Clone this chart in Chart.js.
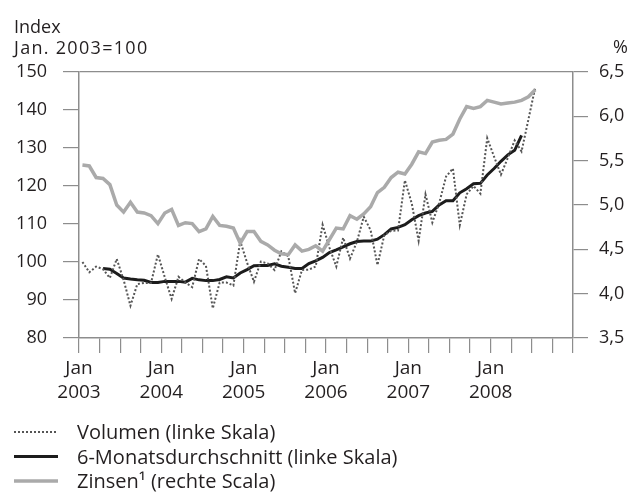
<!DOCTYPE html>
<html>
<head>
<meta charset="utf-8">
<script src="https://cdn.jsdelivr.net/npm/chart.js@4.4.1/dist/chart.umd.min.js"></script>
<style>
  body { margin: 0; background: #fff; }
  canvas { display: block; }
</style>
</head>
<body>
<canvas id="chart" width="642" height="492"></canvas>
<script>
// Monatswerte ab Jan 2003 (Index Jan. 2003 = 100, Zinsen in %)
const jahre = ['2003', '2004', '2005', '2006', '2007', '2008'];

const volumen = [
  100, 97.3, 98.8, 98.1, 95.8, 100.8, 95.3, 88.5, 94.2, 94.5, 94.5, 102,
  96, 90.3, 96.1, 94.6, 93.4, 100.8, 99, 87.8, 94.6, 94.6, 93.8, 105.5,
  99.8, 94.8, 100.1, 99.6, 97.9, 102.8, 101.5, 91.8, 97.9, 98, 98.8, 109.8,
  103.8, 98.8, 106.4, 100.9, 105.3, 111.9, 108.4, 99.2, 107.1, 108.2, 108.3, 121.5,
  115.4, 105.6, 117.8, 110.4, 115.5, 122.5, 124.6, 109.7, 117.8, 120, 118, 132.6,
  127.7, 123, 127.4, 132, 129.1, 137.5, 146
];

// 6-Monatsdurchschnitt, erster Wert Apr 2003
const durchschnittStart = 3;
const durchschnitt = [
  98.3, 98.1, 97, 95.8, 95.5, 95.3, 95.2, 94.6, 94.6,
  94.9, 94.9, 94.9, 94.7, 95.7, 95.3, 95.1, 95.1, 95.4, 96.1, 95.8, 97.1,
  98, 99, 99.1, 99.1, 99.5, 98.9, 98.6, 98.3, 98.3, 99.6, 100.3, 101.2,
  102.5, 103.2, 104, 104.8, 105.4, 105.5, 105.5, 106, 107.2, 108.7, 109.1, 109.8,
  111.1, 112.2, 112.9, 113.3, 115, 116.1, 116.1, 118.2, 119.3, 120.6, 120.7, 122.9,
  124.6, 126.5, 128.2, 129.4, 133.3
];

const zinsen = [
  5.45, 5.44, 5.31, 5.30, 5.23, 5.00, 4.92, 5.03, 4.92, 4.91, 4.88, 4.79,
  4.91, 4.95, 4.77, 4.80, 4.79, 4.70, 4.73, 4.87, 4.77, 4.76, 4.74, 4.57,
  4.70, 4.70, 4.59, 4.55, 4.49, 4.45, 4.44, 4.55, 4.48, 4.50, 4.54, 4.48,
  4.61, 4.74, 4.73, 4.88, 4.84, 4.90, 4.98, 5.14, 5.20, 5.31, 5.37, 5.35,
  5.46, 5.60, 5.58, 5.71, 5.73, 5.74, 5.80, 5.97, 6.11, 6.09, 6.11, 6.18,
  6.16, 6.14, 6.15, 6.16, 6.18, 6.22, 6.30
];

const schrift = '"Open Sans", sans-serif';
const textFarbe = '#231f20';
const achsenFarbe = '#8d8d8d';

// Werte in der Monatsmitte platzieren
const punkte = (werte, start) => werte.map((v, i) => ({ x: start + i + 0.5, y: v }));

const legende = [
  { text: 'Volumen (linke Skala)', farbe: '#555', breite: 2, dash: [2, 2] },
  { text: '6-Monatsdurchschnitt (linke Skala)', farbe: '#1c1c1c', breite: 3, dash: [] },
  { text: 'Zinsen\u00b9 (rechte Scala)', farbe: '#aaaaaa', breite: 3.5, dash: [] }
];

const beschriftung = {
  id: 'beschriftung',
  afterDraw(chart) {
    const c = chart.ctx;
    c.save();
    c.fillStyle = textFarbe;
    c.font = '18px ' + schrift;
    c.textBaseline = 'alphabetic';
    c.textAlign = 'left';
    c.fillText('Index', 14, 33);
    c.letterSpacing = '1.3px';
    c.fillText('Jan. 2003=100', 14, 54);
    c.letterSpacing = '0px';
    c.textAlign = 'right';
    c.fillText('%', 628, 53);

    // Legende
    c.font = '20px ' + schrift;
    c.textAlign = 'left';
    legende.forEach((l, i) => {
      const y = 432 + i * 24.5;
      c.beginPath();
      c.strokeStyle = l.farbe;
      c.lineWidth = l.breite;
      c.setLineDash(l.dash);
      c.moveTo(14, y);
      c.lineTo(58, y);
      c.stroke();
      c.setLineDash([]);
      c.fillText(l.text, 77, y + 7);
    });
    c.restore();
  }
};

new Chart(document.getElementById('chart'), {
  type: 'line',
  data: {
    datasets: [
      {
        label: 'Zinsen (rechte Scala)',
        data: punkte(zinsen, 0),
        yAxisID: 'y1',
        borderColor: '#aaaaaa',
        borderWidth: 3.5,
        pointRadius: 0,
        tension: 0
      },
      {
        label: 'Volumen (linke Skala)',
        data: punkte(volumen, 0),
        yAxisID: 'y',
        borderColor: '#555',
        borderWidth: 2,
        borderDash: [2, 2],
        pointRadius: 0,
        tension: 0
      },
      {
        label: '6-Monatsdurchschnitt (linke Skala)',
        data: punkte(durchschnitt, durchschnittStart),
        yAxisID: 'y',
        borderColor: '#1c1c1c',
        borderWidth: 3,
        pointRadius: 0,
        tension: 0
      }
    ]
  },
  options: {
    responsive: false,
    animation: false,
    layout: { padding: { top: 72, left: 0, right: 0, bottom: 0 } },
    plugins: { legend: { display: false }, tooltip: { enabled: false } },
    scales: {
      x: {
        type: 'linear',
        min: 0,
        max: 72,
        border: { color: achsenFarbe, width: 1.5 },
        grid: { drawOnChartArea: false, tickLength: 15, color: achsenFarbe, lineWidth: 1.2 },
        ticks: {
          stepSize: 3,
          autoSkip: false,
          maxRotation: 0,
          padding: 3,
          color: textFarbe,
          font: { family: schrift, size: 19, lineHeight: 1.3 },
          callback: v => (v % 12 === 0 && v < 72) ? ['Jan', jahre[v / 12]] : ''
        },
        afterFit: s => { s.height = 154; }
      },
      y: {
        position: 'left',
        min: 80,
        max: 150,
        border: { color: achsenFarbe, width: 1.5 },
        grid: {
          drawOnChartArea: true,
          tickLength: 16,
          tickColor: achsenFarbe,
          lineWidth: 1.2,
          color: c => c.tick && c.tick.value === 150 ? achsenFarbe : 'transparent'
        },
        ticks: {
          stepSize: 10,
          padding: 16,
          color: textFarbe,
          font: { family: schrift, size: 18 }
        },
        afterFit: s => { s.width = 79; }
      },
      y1: {
        position: 'right',
        min: 3.5,
        max: 6.5,
        border: { color: achsenFarbe, width: 1.5 },
        grid: { drawOnChartArea: false, tickLength: 15, color: achsenFarbe, lineWidth: 1.2 },
        ticks: {
          stepSize: 0.5,
          padding: 11,
          color: textFarbe,
          font: { family: schrift, size: 18 },
          callback: v => v.toFixed(1).replace('.', ',')
        },
        afterFit: s => { s.width = 69; }
      }
    }
  },
  plugins: [beschriftung]
});
</script>
</body>
</html>
